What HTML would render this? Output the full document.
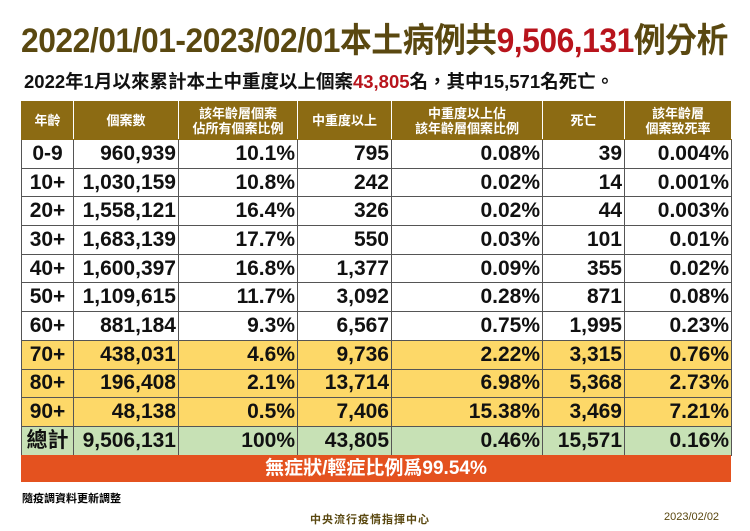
<!DOCTYPE html>
<html><head><meta charset="utf-8"><style>
body{margin:0;width:750px;height:531px;background:#fff;font-family:"Liberation Sans","Noto Sans CJK TC",sans-serif;position:relative;overflow:hidden}
.t{position:absolute;left:21px;top:13px;font-size:34px;font-weight:bold;color:#5a4810;white-space:nowrap;letter-spacing:-0.5px;transform:scaleX(0.935);transform-origin:left top}
.s{position:absolute;left:24px;top:68px;font-size:18.5px;font-weight:bold;color:#111;white-space:nowrap}
table{position:absolute;left:21px;top:101px;border-collapse:collapse;table-layout:fixed;width:710px}
td{border:1px solid #555;height:27.7px;padding:0 2px;font-size:21px;font-weight:bold;text-align:right;color:#111;white-space:nowrap;line-height:22px}
td:first-child{text-align:center}
tr.h td{background:#8c6b13;color:#fff;font-size:13px;text-align:center;height:37px;line-height:15px;border-color:#8c6b13;border-right-color:#fff}
tr.y td{background:#fdd868}
tr.g td{background:#c7e1b5}
.o{position:absolute;left:21px;top:455px;width:710px;height:27px;background:#e4521f;color:#fff;font-size:19px;font-weight:bold;text-align:center;line-height:27px}
.f1{position:absolute;left:22px;top:490px;font-size:11px;font-weight:bold}
.f2{position:absolute;left:310px;top:511px;font-size:11px;font-weight:bold;color:#5a4810;letter-spacing:1px}
.f3{position:absolute;left:664px;top:511px;font-size:11px;color:#5a4810}
</style></head><body>
<div class="t">2022/01/01-2023/02/01本土病例共<span style="color:#b8141c">9,506,131</span>例分析</div>
<div class="s">2022年1月以來累計本土中重度以上個案<span style="color:#b8141c">43,805</span>名，其中15,571名死亡。</div>
<table>
<colgroup><col style="width:52px"><col style="width:105px"><col style="width:119px"><col style="width:94px"><col style="width:151px"><col style="width:82px"><col style="width:107px"></colgroup>
<tr class="h"><td>年齡</td><td>個案數</td><td>該年齡層個案<br>佔所有個案比例</td><td>中重度以上</td><td>中重度以上佔<br>該年齡層個案比例</td><td>死亡</td><td>該年齡層<br>個案致死率</td></tr>
<tr><td>0-9</td><td>960,939</td><td>10.1%</td><td>795</td><td>0.08%</td><td>39</td><td>0.004%</td></tr>
<tr><td>10+</td><td>1,030,159</td><td>10.8%</td><td>242</td><td>0.02%</td><td>14</td><td>0.001%</td></tr>
<tr><td>20+</td><td>1,558,121</td><td>16.4%</td><td>326</td><td>0.02%</td><td>44</td><td>0.003%</td></tr>
<tr><td>30+</td><td>1,683,139</td><td>17.7%</td><td>550</td><td>0.03%</td><td>101</td><td>0.01%</td></tr>
<tr><td>40+</td><td>1,600,397</td><td>16.8%</td><td>1,377</td><td>0.09%</td><td>355</td><td>0.02%</td></tr>
<tr><td>50+</td><td>1,109,615</td><td>11.7%</td><td>3,092</td><td>0.28%</td><td>871</td><td>0.08%</td></tr>
<tr><td>60+</td><td>881,184</td><td>9.3%</td><td>6,567</td><td>0.75%</td><td>1,995</td><td>0.23%</td></tr>
<tr class="y"><td>70+</td><td>438,031</td><td>4.6%</td><td>9,736</td><td>2.22%</td><td>3,315</td><td>0.76%</td></tr>
<tr class="y"><td>80+</td><td>196,408</td><td>2.1%</td><td>13,714</td><td>6.98%</td><td>5,368</td><td>2.73%</td></tr>
<tr class="y"><td>90+</td><td>48,138</td><td>0.5%</td><td>7,406</td><td>15.38%</td><td>3,469</td><td>7.21%</td></tr>
<tr class="g"><td>總計</td><td>9,506,131</td><td>100%</td><td>43,805</td><td>0.46%</td><td>15,571</td><td>0.16%</td></tr>
</table>
<div class="o">無症狀/輕症比例爲99.54%</div>
<div class="f1">隨疫調資料更新調整</div>
<div class="f2">中央流行疫情指揮中心</div>
<div class="f3">2023/02/02</div>
</body></html>
